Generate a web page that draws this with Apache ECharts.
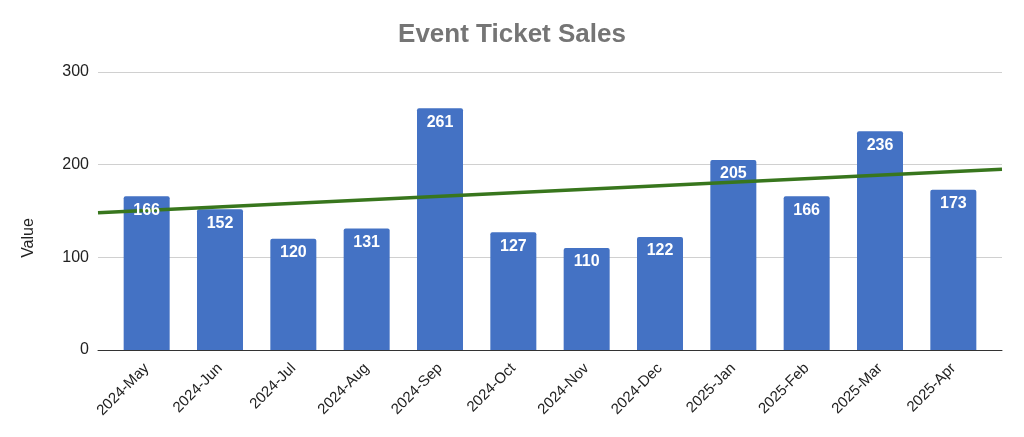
<!DOCTYPE html>
<html>
<head>
<meta charset="utf-8">
<script src="https://cdn.jsdelivr.net/npm/echarts@6/dist/echarts.min.js"></script>
<style>
  html, body { margin: 0; padding: 0; background: #fff; }
  #main { width: 1024px; height: 437px; }
</style>
</head>
<body>
<div id="main"></div>
<script type="text/javascript">
    // 数据
    var months = ['2024-May', '2024-Jun', '2024-Jul', '2024-Aug', '2024-Sep', '2024-Oct',
                  '2024-Nov', '2024-Dec', '2025-Jan', '2025-Feb', '2025-Mar', '2025-Apr'];
    var sales = [166, 152, 120, 131, 261, 127, 110, 122, 205, 166, 236, 173];
    var yTicks = [0, 100, 200, 300];
    // trendline values read at the left and right edge of the plot
    var trendEnds = [148, 195];

    var font = 'Liberation Sans, Arial, sans-serif';
    var myChart = echarts.init(document.getElementById('main'));

    var option = {
        animation: false,
        title: {
            text: 'Event Ticket Sales',
            left: 'center',
            top: 17,
            textStyle: { color: '#757575', fontSize: 26, fontWeight: 'bold', fontFamily: font }
        },
        graphic: [{
            type: 'text',
            x: 29, y: 238,
            rotation: Math.PI / 2,
            style: {
                text: 'Value', fill: '#222', fontSize: 16, fontFamily: font,
                textAlign: 'center', textVerticalAlign: 'middle'
            }
        }],
        grid: [
            // grid 0: gridlines + trendline across the full plot width
            { left: 98, right: 22, top: 72, bottom: 87 },
            // grid 1: the bars, inset like the sheet chart
            { left: 110, right: 34, top: 72, bottom: 87 }
        ],
        xAxis: [
            {
                type: 'value', gridIndex: 0, min: 0, max: 1,
                axisLine: { show: true, onZero: false, lineStyle: { color: '#333', width: 1 } },
                axisTick: { show: false }, axisLabel: { show: false }, splitLine: { show: false }
            },
            {
                type: 'category', gridIndex: 1, data: months,
                axisLine: { show: false }, axisTick: { show: false },
                axisLabel: {
                    rotate: 45, interval: 0, margin: 16,
                    color: '#222', fontSize: 15, fontFamily: font
                }
            }
        ],
        yAxis: [
            {
                type: 'value', gridIndex: 0,
                min: yTicks[0], max: yTicks[yTicks.length - 1], interval: 100,
                axisLine: { show: false }, axisTick: { show: false },
                axisLabel: { color: '#222', fontSize: 16, fontFamily: font, margin: 9 },
                splitLine: { lineStyle: { color: '#d0d0d0', width: 1 } }
            },
            {
                type: 'value', gridIndex: 1,
                min: yTicks[0], max: yTicks[yTicks.length - 1], interval: 100,
                show: false, splitLine: { show: false }
            }
        ],
        series: [
            {
                name: 'Value',
                type: 'bar',
                xAxisIndex: 1, yAxisIndex: 1,
                data: sales,
                barWidth: 46,
                z: 2,
                itemStyle: { color: '#4472C4', borderRadius: [2, 2, 0, 0] }
            },
            {
                name: 'Trend',
                type: 'line',
                xAxisIndex: 0, yAxisIndex: 0,
                data: [[0, trendEnds[0]], [1, trendEnds[1]]],
                symbol: 'none',
                z: 3,
                lineStyle: { color: '#38761D', width: 3.5 }
            },
            {
                // label layer drawn above the trendline
                name: 'Labels',
                type: 'bar',
                xAxisIndex: 1, yAxisIndex: 1,
                data: sales,
                barWidth: 46,
                barGap: '-100%',
                z: 5,
                silent: true,
                itemStyle: { color: 'rgba(0,0,0,0)' },
                label: {
                    show: true, position: 'insideTop', distance: 6,
                    color: '#fff', fontSize: 16, fontWeight: 'bold', fontFamily: font
                }
            }
        ]
    };

    myChart.setOption(option);
</script>
</body>
</html>
